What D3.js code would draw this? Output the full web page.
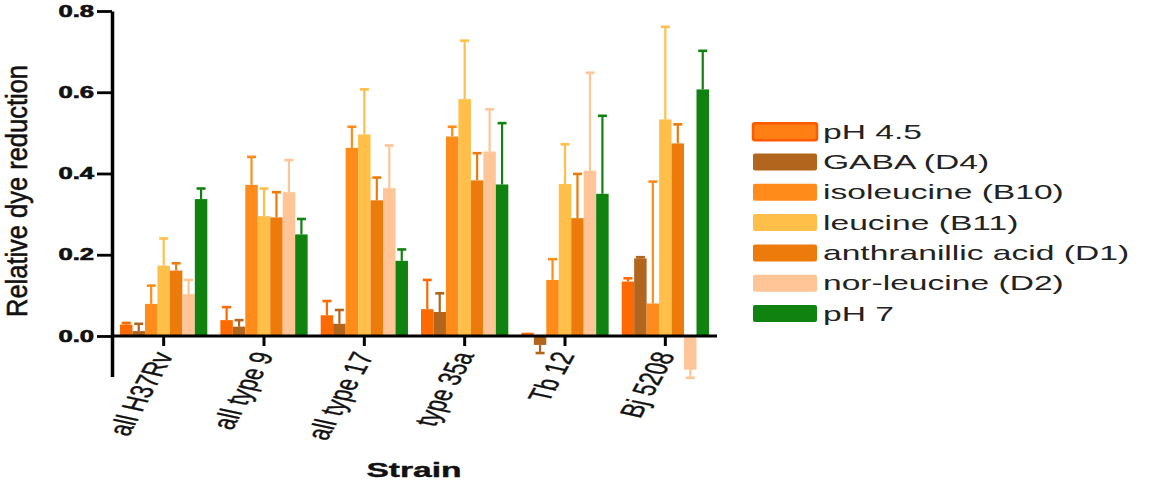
<!DOCTYPE html>
<html>
<head>
<meta charset="utf-8">
<script src="https://cdn.jsdelivr.net/npm/d3@7"></script>
<style>
  body { margin: 0; background: #fff; }
  svg { display: block; }
  text { font-family: "Liberation Sans", Arial, sans-serif; fill: #1e1e1e; }
</style>
</head>
<body>
<script>
// strains on the x axis
var strains = ["all H37Rv", "all type 9", "all type 17", "type 35a", "Tb 12", "Bj 5208"];

// treatments (legend order)
var series = ["pH 4.5", "GABA (D4)", "isoleucine (B10)", "leucine (B11)", "anthranillic acid (D1)", "nor-leucine (D2)", "pH 7"];
var colors = ["#ff6a00", "#b2651d", "#ff8c1a", "#ffbf48", "#ec7b0c", "#ffc596", "#108210"];

// mean values per treatment, one per strain
var pH45 = [0.028, 0.039, 0.051, 0.066, 0.008, 0.134];
var gaba = [0.012, 0.023, 0.030, 0.059, -0.022, 0.191];
var isoleucine = [0.079, 0.372, 0.463, 0.491, 0.138, 0.080];
var leucine = [0.173, 0.295, 0.496, 0.583, 0.374, 0.533];
var anthranillic = [0.161, 0.292, 0.334, 0.383, 0.290, 0.474];
var norleucine = [0.103, 0.354, 0.364, 0.454, 0.407, -0.083];
var pH7 = [0.337, 0.250, 0.185, 0.373, 0.350, 0.607];

// error bar sizes (drawn away from zero)
var pH45Err = [0.004, 0.032, 0.035, 0.072, 0.000, 0.008];
var gabaErr = [0.018, 0.016, 0.034, 0.046, 0.020, 0.003];
var isoleucineErr = [0.045, 0.069, 0.052, 0.024, 0.051, 0.300];
var leucineErr = [0.067, 0.068, 0.111, 0.144, 0.098, 0.228];
var anthranillicErr = [0.018, 0.062, 0.056, 0.067, 0.109, 0.047];
var norleucineErr = [0.035, 0.079, 0.105, 0.104, 0.241, 0.020];
var pH7Err = [0.026, 0.038, 0.028, 0.151, 0.192, 0.095];

var yTicks = [0.0, 0.2, 0.4, 0.6, 0.8];

var values = [pH45, gaba, isoleucine, leucine, anthranillic, norleucine, pH7];
var errors = [pH45Err, gabaErr, isoleucineErr, leucineErr, anthranillicErr, norleucineErr, pH7Err];

//the original picture is stretched sideways, so text gets squeezed the same way
var stretch = 1.6;

var width = 1172;
var height = 486;

var svg = d3.select("body").append("svg")
  .attr("width", width)
  .attr("height", height);

//scales
var x0 = d3.scaleBand().domain(strains).range([113.5, 715.5]).paddingInner(0.13).paddingOuter(0.065);
var x1 = d3.scaleBand().domain(series).range([0, x0.bandwidth()]);
var y = d3.scaleLinear().domain([-0.1, 0.8]).range([376.6, 11]);

//flatten to one record per bar
var bars = [];
strains.forEach(function (s, i) {
  series.forEach(function (name, j) {
    bars.push({ strain: s, series: name, idx: j, v: values[j][i], e: errors[j][i] });
  });
});

//bars
svg.append("g").selectAll("rect")
  .data(bars)
  .enter().append("rect")
  .attr("x", function (d) { return x0(d.strain) + x1(d.series); })
  .attr("y", function (d) { return y(Math.max(0, d.v)); })
  .attr("width", x1.bandwidth())
  .attr("height", function (d) { return Math.abs(y(d.v) - y(0)); })
  .style("fill", function (d) { return colors[d.idx]; });

//error bars
var err = svg.append("g").selectAll("g")
  .data(bars.filter(function (d) { return d.e > 0; }))
  .enter().append("g")
  .style("stroke", function (d) { return colors[d.idx]; });

function tip(d) { return d.v >= 0 ? d.v + d.e : d.v - d.e; }
function cx(d) { return x0(d.strain) + x1(d.series) + x1.bandwidth() / 2; }

err.append("line")
  .attr("x1", cx).attr("x2", cx)
  .attr("y1", function (d) { return y(d.v); })
  .attr("y2", function (d) { return y(tip(d)); })
  .style("stroke-width", 2.2);

err.append("line")
  .attr("x1", function (d) { return cx(d) - 4.5; })
  .attr("x2", function (d) { return cx(d) + 4.5; })
  .attr("y1", function (d) { return y(tip(d)); })
  .attr("y2", function (d) { return y(tip(d)); })
  .style("stroke-width", 2.6);

//y axis
var yAxis = svg.append("g")
  .attr("transform", "translate(112,0)")
  .call(d3.axisLeft(y).tickValues(yTicks).tickFormat(d3.format(".1f")).tickSize(15).tickSizeOuter(0));

yAxis.select(".domain").style("stroke", "#000").style("stroke-width", 3.5);
yAxis.selectAll(".tick line").style("stroke", "#000").style("stroke-width", 2.8);
yAxis.selectAll(".tick text")
  .attr("x", null).attr("dy", null)
  .attr("transform", "translate(-18,0) scale(" + stretch + ",1)")
  .attr("dominant-baseline", "central")
  .style("font-size", "16px")
  .style("font-weight", "bold")
  .style("fill", "#111")
  .style("stroke", "#111")
  .style("stroke-width", 0.6);

//x axis at zero
var xAxis = svg.append("g")
  .attr("transform", "translate(0," + y(0) + ")")
  .call(d3.axisBottom(x0).tickSize(10).tickSizeOuter(0));

xAxis.select(".domain").attr("d", "M112,0H717").style("stroke", "#000").style("stroke-width", 3.2);
xAxis.selectAll(".tick line").style("stroke", "#000").style("stroke-width", 3);
xAxis.selectAll(".tick text")
  .attr("y", null).attr("dy", null)
  .attr("text-anchor", "end")
  .attr("transform", "translate(10,19) scale(" + stretch + ",1) rotate(-71)")
  .style("font-size", "20px")
  .style("fill", "#111")
  .style("stroke", "#111")
  .style("stroke-width", 0.3);

//axis titles
svg.append("text")
  .attr("transform", "translate(27,191) scale(" + stretch + ",1) rotate(-90)")
  .attr("text-anchor", "middle")
  .attr("textLength", 252)
  .attr("lengthAdjust", "spacingAndGlyphs")
  .style("font-size", "19px")
  .style("fill", "#111")
  .style("stroke", "#111")
  .style("stroke-width", 0.35)
  .text("Relative dye reduction");

svg.append("text")
  .attr("transform", "translate(414,477) scale(" + stretch + ",1)")
  .attr("text-anchor", "middle")
  .style("font-size", "21px")
  .style("font-weight", "bold")
  .style("fill", "#111")
  .style("stroke", "#111")
  .style("stroke-width", 0.4)
  .text("Strain");

//legend
var legend = svg.append("g").selectAll("g")
  .data(series)
  .enter().append("g")
  .attr("transform", function (d, i) { return "translate(753," + (131.7 + i * 30.3) + ")"; });

legend.append("rect")
  .attr("x", 0).attr("y", -8.5)
  .attr("width", 64).attr("height", 17)
  .attr("rx", 2)
  .style("fill", function (d, i) { return i === 0 ? "#ff7f14" : colors[i]; })
  .style("stroke", function (d, i) { return i === 0 ? "#ff5a00" : "none"; })
  .style("stroke-width", 2.5);

legend.append("text")
  .attr("transform", "translate(70,0) scale(" + stretch + ",1)")
  .attr("dominant-baseline", "central")
  .style("font-size", "21px")
  .style("fill", "#222")
  .text(function (d) { return d; });
</script>
</body>
</html>
